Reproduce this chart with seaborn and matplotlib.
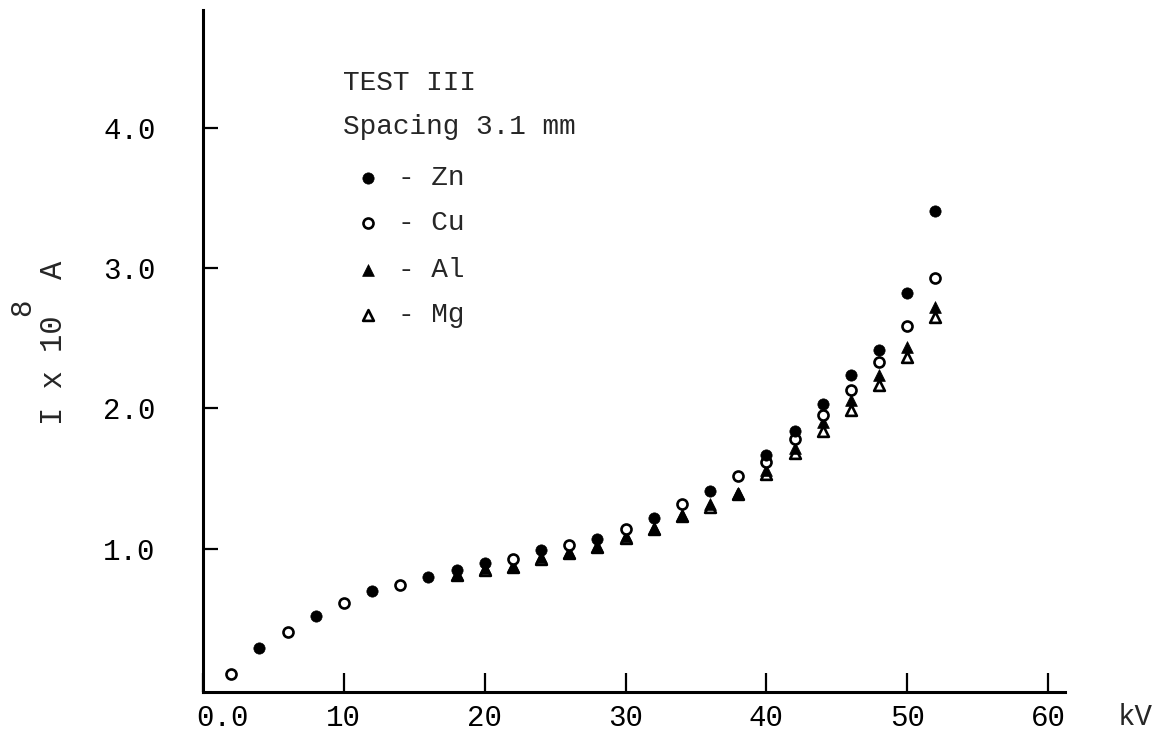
import matplotlib
matplotlib.use("Agg")
import matplotlib.pyplot as plt
import matplotlib.transforms as mtransforms
import seaborn as sns
import pandas as pd

# ---- data (kV, current I x 10^8 A) ----
zn_kv = [4, 8, 12, 16, 18, 20, 24, 28, 32, 36, 40, 42, 44, 46, 48, 50, 52]
zn_i = [0.29, 0.52, 0.70, 0.80, 0.85, 0.90, 0.99, 1.07, 1.22, 1.41, 1.67, 1.84, 2.03, 2.24, 2.42, 2.82, 3.41]

cu_kv = [2, 6, 10, 14, 22, 26, 30, 34, 38, 40, 42, 44, 46, 48, 50, 52]
cu_i = [0.11, 0.41, 0.615, 0.745, 0.93, 1.03, 1.14, 1.32, 1.52, 1.62, 1.78, 1.95, 2.13, 2.33, 2.59, 2.93]

al_kv = [18, 20, 22, 24, 26, 28, 30, 32, 34, 36, 38, 40, 42, 44, 46, 48, 50, 52]
al_i = [0.82, 0.86, 0.88, 0.94, 0.98, 1.02, 1.09, 1.15, 1.24, 1.32, 1.40, 1.56, 1.72, 1.90, 2.06, 2.24, 2.44, 2.72]

mg_kv = [18, 20, 22, 24, 26, 28, 30, 32, 34, 36, 38, 40, 42, 44, 46, 48, 50, 52]
mg_i = [0.81, 0.85, 0.87, 0.93, 0.97, 1.01, 1.08, 1.14, 1.23, 1.30, 1.39, 1.53, 1.68, 1.84, 1.99, 2.17, 2.37, 2.65]

x_ticks = [0, 10, 20, 30, 40, 50, 60]
x_tick_labels = ["0.0", "10", "20", "30", "40", "50", "60"]
y_ticks = [1, 2, 3, 4]
y_tick_labels = ["1.0", "2.0", "3.0", "4.0"]

title_lines = ["TEST III", "Spacing 3.1 mm"]
series_names = ["Zn", "Cu", "Al", "Mg"]

sns.set_theme(style="white")
plt.rcParams["font.family"] = ["Liberation Mono", "DejaVu Sans Mono"]

W, H = 1160, 734
fig = plt.figure(figsize=(W / 100, H / 100), dpi=100)
L, R, T, B = 203, 1065, 10, 692
ax = fig.add_axes([L / W, (H - B) / H, (R - L) / W, (B - T) / H])

def frame(kv, vals):
    return pd.DataFrame({"kV": kv, "I": vals})

styles = {
    "Mg": dict(marker="^", color="white", edgecolor="black", linewidth=1.9, s=60),
    "Al": dict(marker="^", color="black", edgecolor="black", linewidth=0.5, s=72),
    "Cu": dict(marker="o", color="white", edgecolor="black", linewidth=1.9, s=52),
    "Zn": dict(marker="o", color="black", edgecolor="black", linewidth=0.5, s=66),
}
data = {"Zn": (zn_kv, zn_i), "Cu": (cu_kv, cu_i), "Al": (al_kv, al_i), "Mg": (mg_kv, mg_i)}

for name in ["Mg", "Al", "Cu", "Zn"]:
    kv, vals = data[name]
    sns.scatterplot(data=frame(kv, vals), x="kV", y="I", ax=ax, zorder=3,
                    legend=False, **styles[name])

ax.set_xlim(0, 61.2)
ax.set_ylim(-0.021, 4.84)
ax.set_xticks(x_ticks)
ax.set_xticklabels(x_tick_labels)
ax.set_yticks(y_ticks)
ax.set_yticklabels(y_tick_labels)
ax.set_xlabel("")
ax.set_ylabel("")

for s in ["top", "right"]:
    ax.spines[s].set_visible(False)
for s in ["left", "bottom"]:
    ax.spines[s].set_color("black")
    ax.spines[s].set_linewidth(2.2)

ax.tick_params(axis="x", direction="in", length=14, width=1.6, colors="black",
               labelsize=21, pad=9)
ax.tick_params(axis="y", direction="in", length=11, width=1.6, colors="black",
               labelsize=21, pad=34)
ax.tick_params(axis="both", bottom=True, left=True)

# the "0.0" label sits to the right of the origin in the reference
first = ax.get_xticklabels()[0]
first.set_transform(first.get_transform() +
                    mtransforms.ScaledTranslation(19 / 100, 0, fig.dpi_scale_trans))

# axis labels
fig.text(1135 / W, 1 - 717 / H, "kV", ha="center", va="center", fontsize=21)
fig.text(62 / W, 1 - 343 / H, "I x 10  A", rotation=90, rotation_mode="anchor",
         ha="center", va="baseline", fontsize=22)
fig.text(22 / W, 1 - 307 / H, "8", rotation=90, ha="center", va="center", fontsize=21)

# legend block
def fx(px):
    return (px - L) / (R - L)

def fy(py):
    return (B - py) / (B - T)

ax.text(fx(343), fy(83), title_lines[0], transform=ax.transAxes, ha="left",
        va="center", fontsize=20)
ax.text(fx(343), fy(127), title_lines[1], transform=ax.transAxes, ha="left",
        va="center", fontsize=20)
rows = [178, 223, 270, 315]
for name, py in zip(series_names, rows):
    ax.scatter([fx(368)], [fy(py)], transform=ax.transAxes, clip_on=False, **styles[name])
    ax.text(fx(398), fy(py), "- " + name, transform=ax.transAxes, ha="left",
            va="center", fontsize=20)

fig.savefig("out.png", dpi=100)
